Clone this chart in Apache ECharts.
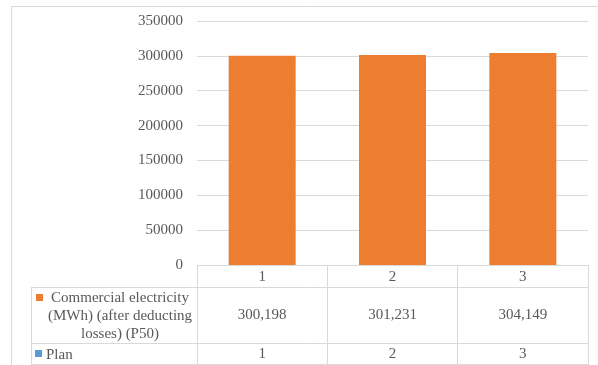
<!DOCTYPE html>
<html>
<head>
<meta charset="utf-8">
<script src="https://cdn.jsdelivr.net/npm/echarts@6/dist/echarts.min.js"></script>
<style>
  html, body { margin: 0; padding: 0; background: #fff; }
  #chart { width: 598px; height: 365px; }
</style>
</head>
<body>
<div id="chart"></div>
<script>
// Chart data
const categories = ['1', '2', '3'];
const energyName = 'Commercial electricity (MWh) (after deducting losses) (P50)';
const energyLines = ['Commercial electricity', '(MWh) (after deducting', 'losses) (P50)'];
const energyValues = [300198, 301231, 304149];
const planName = 'Plan';
const planValues = [1, 2, 3];
const yTicks = [0, 50000, 100000, 150000, 200000, 250000, 300000, 350000];

// Layout of plot area and data table
const FONT = "'Liberation Serif', 'Times New Roman', serif";
const TEXT = '#595959';
const LINE = '#d9d9d9';
const ORANGE = '#ED7D31';
const BLUE = '#5B9BD5';
const plotLeft = 197, plotRight = 588, plotTop = 21, plotBottom = 265;
const tableLeft = 31;
const rowEdges = [265, 287, 343, 364];

const fmt = v => v.toLocaleString('en-US');

const chart = echarts.init(document.getElementById('chart'), null, { renderer: 'canvas' });

const hline = (y, x1, x2) => ({
  type: 'line', silent: true,
  shape: { x1: x1, y1: y + 0.5, x2: x2, y2: y + 0.5 },
  style: { stroke: LINE, lineWidth: 1 }
});

const graphics = [
  // outer chart frame
  { type: 'rect', silent: true, shape: { x: 11.5, y: 6.5, width: 620, height: 400 },
    style: { fill: 'none', stroke: LINE, lineWidth: 1 } },
  hline(rowEdges[1], tableLeft, plotRight),
  hline(rowEdges[2], tableLeft, plotRight),
  hline(rowEdges[3], tableLeft, plotRight),
  { type: 'line', silent: true,
    shape: { x1: tableLeft + 0.5, y1: rowEdges[1], x2: tableLeft + 0.5, y2: rowEdges[3] + 1 },
    style: { stroke: LINE, lineWidth: 1 } },
  // legend keys
  { type: 'rect', silent: true, shape: { x: 36, y: 294, width: 7, height: 7 }, style: { fill: ORANGE } },
  { type: 'rect', silent: true, shape: { x: 35, y: 350, width: 7, height: 7 }, style: { fill: BLUE } }
];
energyLines.forEach((line, i) => {
  graphics.push({
    type: 'text', silent: true,
    style: { x: 120, y: 298 + i * 18, text: line, align: 'center', verticalAlign: 'middle',
             font: '15px ' + FONT, fill: TEXT }
  });
});
graphics.push({
  type: 'text', silent: true,
  style: { x: 46, y: 355, text: planName, align: 'left', verticalAlign: 'middle',
           font: '15px ' + FONT, fill: TEXT }
});

const tableAxis = (data, offset, margin) => ({
  type: 'category', gridIndex: 0, position: 'bottom', offset: offset,
  data: data,
  axisLine: { show: false },
  axisTick: { show: false },
  axisLabel: { interval: 0, margin: margin, color: TEXT, fontFamily: FONT, fontSize: 15 },
  splitLine: { show: false }
});

chart.setOption({
  animation: false,
  backgroundColor: '#fff',
  grid: { left: plotLeft, right: 598 - plotRight, top: plotTop, bottom: 365 - plotBottom },
  xAxis: [
    {
      type: 'category', data: categories, position: 'bottom',
      axisLine: { show: true, lineStyle: { color: LINE, width: 1 } },
      axisTick: { show: true, interval: 0, length: rowEdges[3] - rowEdges[0] + 1,
                  lineStyle: { color: LINE, width: 1 } },
      axisLabel: { interval: 0, margin: 5, color: TEXT, fontFamily: FONT, fontSize: 15 }
    },
    tableAxis(energyValues.map(fmt), rowEdges[1] - rowEdges[0], 21),
    tableAxis(planValues.map(String), rowEdges[2] - rowEdges[0], 4)
  ],
  yAxis: {
    type: 'value', min: yTicks[0], max: yTicks[yTicks.length - 1], interval: 50000,
    axisLine: { show: false }, axisTick: { show: false },
    axisLabel: { margin: 14, color: TEXT, fontFamily: FONT, fontSize: 15,
                 formatter: v => String(v) },
    splitLine: { lineStyle: { color: LINE, width: 1 } }
  },
  series: [
    {
      name: energyName, type: 'bar', xAxisIndex: 0, data: energyValues,
      barWidth: 67, itemStyle: { color: ORANGE }
    }
  ],
  graphic: graphics
});
</script>
</body>
</html>
